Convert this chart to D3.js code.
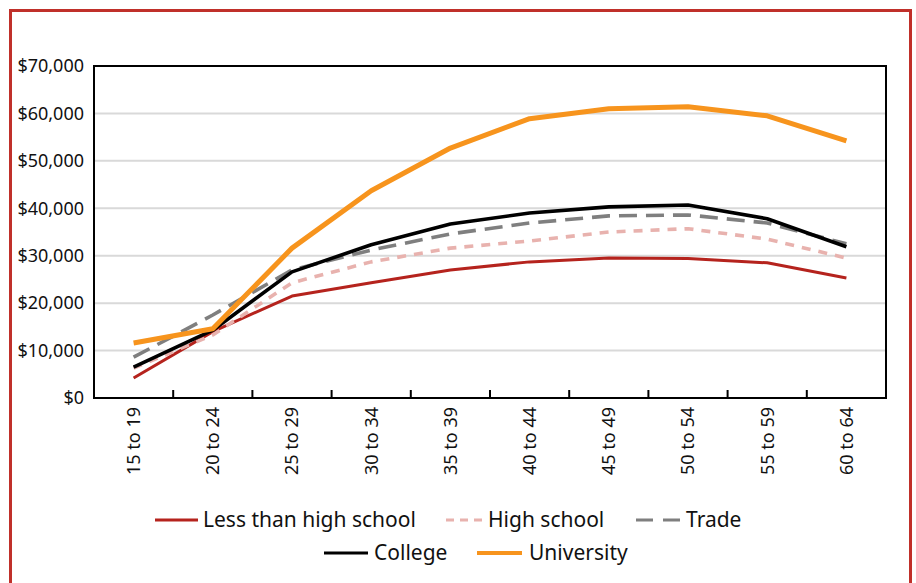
<!DOCTYPE html>
<html><head><meta charset="utf-8">
<script src="https://cdn.jsdelivr.net/npm/d3@7"></script>
<style>body{margin:0;background:#fff}svg{display:block}text{font-family:"Noto Sans",sans-serif;fill:#111}</style>
</head><body><svg id="c" width="916" height="583"></svg>
<script>
const categories = ["15 to 19","20 to 24","25 to 29","30 to 34","35 to 39","40 to 44","45 to 49","50 to 54","55 to 59","60 to 64"];
const lessThanHighSchool = [4200,14000,21500,24300,27000,28700,29500,29400,28500,25300];
const highSchool = [6300,13300,24300,28700,31600,33100,35000,35700,33500,29500];
const trade = [8600,17500,27000,31200,34600,36900,38400,38600,36900,32500];
const college = [6500,14300,26600,32300,36700,39000,40300,40700,37800,31900];
const university = [11600,14600,31600,43700,52700,58900,61000,61400,59500,54200];
const yTicks = [0,10000,20000,30000,40000,50000,60000,70000];

const series = [
  {name:"Less than high school", values:lessThanHighSchool, color:"#b5231d", width:3, dash:null, ldash:null},
  {name:"High school", values:highSchool, color:"#e8b2ae", width:3.6, dash:"9,8", ldash:"8,6"},
  {name:"Trade", values:trade, color:"#7f7f7f", width:3.6, dash:"18,9", ldash:"17,10"},
  {name:"College", values:college, color:"#000000", width:3.6, dash:null, ldash:null},
  {name:"University", values:university, color:"#f7941d", width:5, dash:null, ldash:null}
];

const svg = d3.select("#c");
svg.append("rect").attr("x",10.5).attr("y",10.5).attr("width",900).attr("height",600)
  .attr("fill","none").attr("stroke","#c0302a").attr("stroke-width",3);

const L=94, R=886, T=66, B=398;
const x = d3.scaleBand().domain(categories).range([L,R]);
const y = d3.scaleLinear().domain([0,70000]).range([B,T]);

svg.append("g").selectAll("line").data(yTicks.filter(d=>d>0&&d<70000)).join("line")
  .attr("x1",L).attr("x2",R).attr("y1",d=>y(d)).attr("y2",d=>y(d))
  .attr("stroke","#d9d9d9").attr("stroke-width",2);

const fmt = d=>"$"+d3.format(",")(d);
svg.append("g").selectAll("text").data(yTicks).join("text")
  .attr("x",84).attr("y",d=>y(d)).attr("dy","0.35em").attr("text-anchor","end")
  .attr("font-size",18).text(fmt);

const bounds = categories.slice(1).map(c=>x(c));
svg.append("g").selectAll("line").data(bounds).join("line")
  .attr("x1",d=>d).attr("x2",d=>d).attr("y1",B).attr("y2",B-8)
  .attr("stroke","#000").attr("stroke-width",2);

svg.append("g").selectAll("text").data(categories).join("text")
  .attr("transform",d=>`translate(${x(d)+x.bandwidth()/2},407) rotate(-90)`)
  .attr("dy","0.35em").attr("text-anchor","end").attr("font-size",18).text(d=>d);

const line = d3.line().x((d,i)=>x(categories[i])+x.bandwidth()/2).y(d=>y(d));
series.forEach(s=>{
  svg.append("path").datum(s.values).attr("d",line).attr("fill","none")
    .attr("stroke",s.color).attr("stroke-width",s.width)
    .attr("stroke-dasharray",s.dash).attr("stroke-linejoin","round");
});

svg.append("rect").attr("x",L).attr("y",T).attr("width",R-L).attr("height",B-T)
  .attr("fill","none").attr("stroke","#000").attr("stroke-width",2);

const legendPos = [
  {x:155,x2:198,y:520,tx:203},
  {x:446,x2:482,y:520,tx:488},
  {x:636,x2:680,y:520,tx:686},
  {x:324,x2:368,y:553,tx:374},
  {x:477,x2:522,y:553,tx:529}
];
series.forEach((s,i)=>{
  const p = legendPos[i];
  svg.append("line").attr("x1",p.x).attr("x2",p.x2).attr("y1",p.y).attr("y2",p.y)
    .attr("stroke",s.color).attr("stroke-width",s.width>4?4:3)
    .attr("stroke-dasharray",s.ldash);
  svg.append("text").attr("x",p.tx).attr("y",p.y).attr("dy","0.35em")
    .attr("font-size",21).text(s.name);
});
</script></body></html>
